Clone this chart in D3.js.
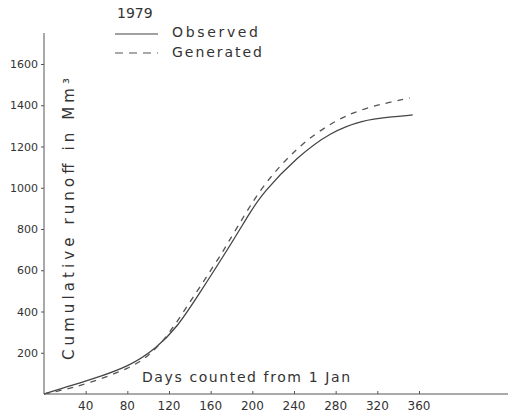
<!DOCTYPE html>
<html>
<head>
<meta charset="utf-8">
<script src="https://cdn.jsdelivr.net/npm/d3@7"></script>
<style>
  body { margin: 0; background: #fff; }
  text { font-family: 'DejaVu Sans', sans-serif; fill: #333; }
</style>
</head>
<body>
<div id="chart"></div>
<script>
// values
var obsDays = [0, 15, 44, 83, 108, 128, 147, 179, 198, 210, 243, 275, 306, 332, 354]
var obsRunoff = [0, 24, 68, 136, 223, 325, 470, 722, 882, 975, 1149, 1270, 1328, 1343, 1353]

var genDays = [0, 15, 44, 83, 102, 121, 143, 153, 162, 171, 177, 188, 210, 243, 275, 306, 351]
var genRunoff = [0, 15, 53, 126, 189, 296, 470, 543, 616, 684, 737, 829, 1013, 1198, 1314, 1387, 1435]

var xTicks = [40, 80, 120, 160, 200, 240, 280, 320, 360]
var yTicks = [200, 400, 600, 800, 1000, 1200, 1400, 1600]

var svgWidth = 508
var svgHeight = 416

var svg = d3.select('#chart')
  .append('svg')
  .attr('width', svgWidth)
  .attr('height', svgHeight)

var x = d3.scaleLinear().domain([0, 360]).range([44, 419])
var y = d3.scaleLinear().domain([0, 1600]).range([394, 64])

// x axis - runs to the page edge
svg.append('line')
  .attr('x1', x(0)).attr('x2', svgWidth)
  .attr('y1', y(0)).attr('y2', y(0))
  .attr('stroke', '#555').attr('stroke-width', 1)

var xAxis = svg.append('g')
  .attr('transform', `translate(0, ${y(0)})`)
  .call(d3.axisTop(x).tickValues(xTicks).tickSize(3).tickFormat(''))
xAxis.select('.domain').remove()
xAxis.selectAll('line').attr('stroke', '#555')

svg.append('g')
  .selectAll('text')
  .data(xTicks)
  .enter()
  .append('text')
  .attr('x', d => x(d))
  .attr('y', 410)
  .attr('text-anchor', 'middle')
  .attr('font-size', '12px')
  .text(d => d)

// y axis
svg.append('line')
  .attr('x1', x(0)).attr('x2', x(0))
  .attr('y1', y(0)).attr('y2', 33)
  .attr('stroke', '#555').attr('stroke-width', 1)

var yAxis = svg.append('g')
  .attr('transform', `translate(${x(0)}, 0)`)
  .call(d3.axisLeft(y).tickValues(yTicks).tickSize(3).tickFormat(''))
yAxis.select('.domain').remove()
yAxis.selectAll('line').attr('stroke', '#555')

svg.append('g')
  .selectAll('text')
  .data(yTicks)
  .enter()
  .append('text')
  .attr('x', 38)
  .attr('y', d => y(d) + 4)
  .attr('text-anchor', 'end')
  .attr('font-size', '11px')
  .text(d => d)

// curves
var line = d3.line()
  .x(d => x(d[0]))
  .y(d => y(d[1]))
  .curve(d3.curveBasis)

svg.append('path')
  .datum(obsDays.map((d, i) => [d, obsRunoff[i]]))
  .attr('d', line)
  .attr('fill', 'none')
  .attr('stroke', '#444')
  .attr('stroke-width', 1.3)

svg.append('path')
  .datum(genDays.map((d, i) => [d, genRunoff[i]]))
  .attr('d', line)
  .attr('fill', 'none')
  .attr('stroke', '#555')
  .attr('stroke-width', 1.3)
  .attr('stroke-dasharray', '6,6')

// axis titles
svg.append('text')
  .attr('transform', 'translate(74, 360) rotate(-90)')
  .attr('font-size', '15px')
  .attr('textLength', 282)
  .attr('lengthAdjust', 'spacing')
  .text('Cumulative runoff in Mm³')

svg.append('text')
  .attr('x', 142)
  .attr('y', 382)
  .attr('font-size', '14px')
  .attr('textLength', 208)
  .attr('lengthAdjust', 'spacing')
  .text('Days counted from 1 Jan')

// legend
svg.append('text')
  .attr('x', 117).attr('y', 18)
  .attr('font-size', '14px')
  .text('1979')

svg.append('line')
  .attr('x1', 115).attr('x2', 158)
  .attr('y1', 34).attr('y2', 34)
  .attr('stroke', '#444').attr('stroke-width', 1.2)

svg.append('line')
  .attr('x1', 115).attr('x2', 158)
  .attr('y1', 53).attr('y2', 53)
  .attr('stroke', '#555').attr('stroke-width', 1.2)
  .attr('stroke-dasharray', '8,6')

svg.append('text')
  .attr('x', 172).attr('y', 37)
  .attr('font-size', '14px')
  .attr('textLength', 86)
  .attr('lengthAdjust', 'spacing')
  .text('Observed')

svg.append('text')
  .attr('x', 172).attr('y', 57)
  .attr('font-size', '14px')
  .attr('textLength', 90)
  .attr('lengthAdjust', 'spacing')
  .text('Generated')
</script>
</body>
</html>
